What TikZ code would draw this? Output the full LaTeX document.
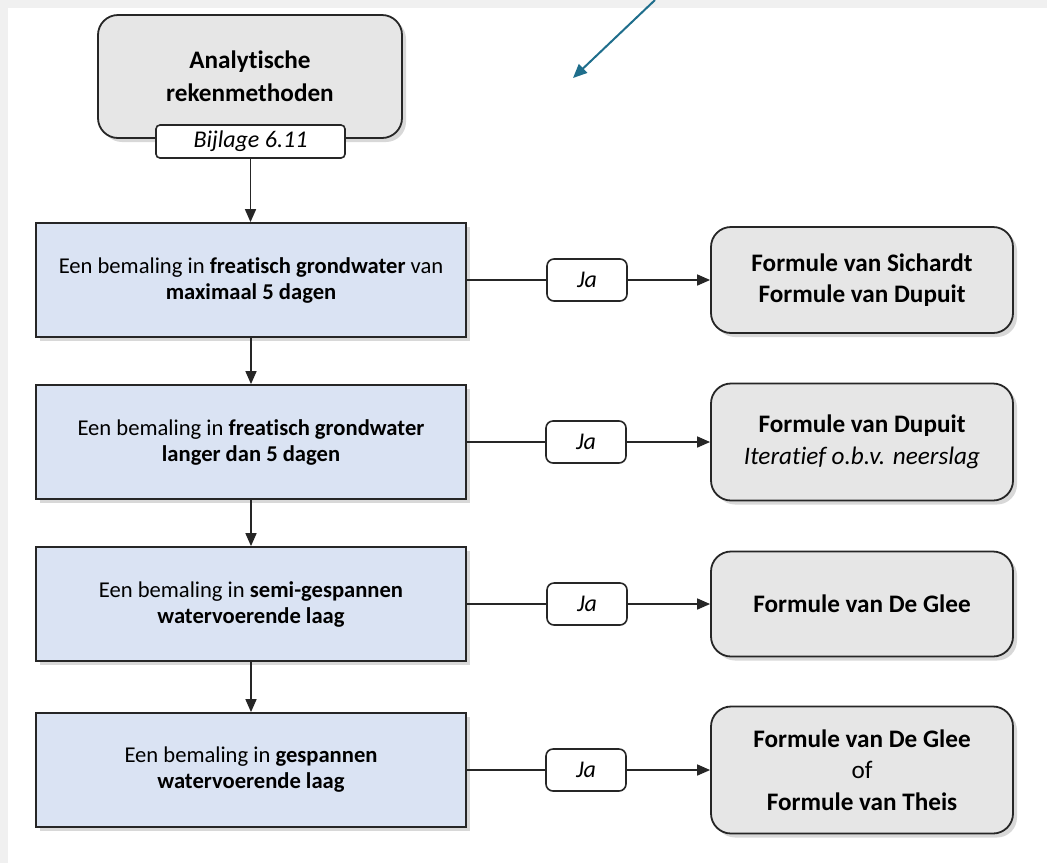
\documentclass[tikz,border=0pt]{standalone}
\usepackage{fontspec}
\setmainfont[Ligatures=NoCommon]{Carlito}
\usetikzlibrary{arrows.meta,shadows}
\definecolor{blokblauw}{HTML}{DAE3F3}
\definecolor{uitkomstgrijs}{HTML}{E6E6E6}
\definecolor{randgrijs}{HTML}{F0F0F0}
\definecolor{pijlblauw}{HTML}{1F6E8C}
\definecolor{lijngrijs}{HTML}{262626}
\tikzset{
	schaduw/.style={drop shadow={opacity=0.3,shadow xshift=2pt,shadow yshift=-2pt}},
	blokbox/.style={draw=lijngrijs,line width=0.9pt,fill=blokblauw,schaduw,
		minimum width=215pt,minimum height=57pt,align=center,
		font=\fontsize{11.3}{13}\selectfont},
	uitkomst/.style={draw=lijngrijs,line width=0.9pt,fill=uitkomstgrijs,schaduw,
		rounded corners=10pt,minimum width=151pt,align=center,
		font=\fontsize{12.6}{15.8}\selectfont},
	jabox/.style={draw=lijngrijs,line width=0.8pt,fill=white,rounded corners=3.5pt,
		minimum width=40pt,minimum height=21pt,font=\fontsize{12}{13}\selectfont\itshape},
	pijl/.style={draw=lijngrijs,line width=0.8pt,-{Triangle[length=6.5pt,width=5.5pt]}},
	verbinding/.style={draw=lijngrijs,line width=0.8pt}
}
\begin{document}
\begin{tikzpicture}[x=0.5pt,y=-0.5pt]
		\useasboundingbox (0,0) rectangle (1047,863);
		\fill[randgrijs] (0,0) rectangle (1047,863);
		\fill[white] (8,8) rectangle (1047,863);
		% startblok
		\node[uitkomst,minimum width=152pt,minimum height=61.5pt,font=\fontsize{12.6}{16.5}\selectfont\bfseries]
			(start) at (250,76.5) {Analytische\\rekenmethoden};
		\node[jabox,rounded corners=2pt,minimum width=94.5pt,minimum height=16.5pt,inner sep=1pt]
			(bijlage) at (250.5,141.5) {Bijlage 6.11};
		% situaties
		\node[blokbox] (blok1) at (251,280) {Een bemaling in \textbf{freatisch grondwater} van\\\textbf{maximaal 5 dagen}};
		\node[blokbox] (blok2) at (251,442) {Een bemaling in \textbf{freatisch grondwater}\\\textbf{langer dan 5 dagen}};
		\node[blokbox] (blok3) at (251,604) {Een bemaling in \textbf{semi-gespannen}\\\textbf{watervoerende laag}};
		\node[blokbox] (blok4) at (251,770) {Een bemaling in \textbf{gespannen}\\\textbf{watervoerende laag}};
		% ja
		\node[jabox] (ja1) at (587,280) {Ja};
		\node[jabox] (ja2) at (586,442) {Ja};
		\node[jabox] (ja3) at (587,604) {Ja};
		\node[jabox] (ja4) at (586,770) {Ja};
		% formules
		\node[uitkomst,minimum height=53pt] (formule1) at (862,280) {\textbf{Formule van Sichardt}\\\textbf{Formule van Dupuit}};
		\node[uitkomst,minimum height=58.5pt] (formule2) at (862,442) {\textbf{Formule van Dupuit}\\\textit{Iteratief o.b.v. neerslag}};
		\node[uitkomst,minimum height=52.5pt] (formule3) at (862,604) {\textbf{Formule van De Glee}};
		\node[uitkomst,minimum height=63.5pt] (formule4) at (862,770) {\textbf{Formule van De Glee}\\of\\\textbf{Formule van Theis}};
		% pijlen omlaag
		\draw[pijl] (bijlage.south) -- (bijlage.south |- blok1.north);
		\draw[pijl] (blok1.south) -- (blok2.north);
		\draw[pijl] (blok2.south) -- (blok3.north);
		\draw[pijl] (blok3.south) -- (blok4.north);
		% pijlen naar rechts
		\draw[verbinding] (blok1.east) -- (ja1.west);
		\draw[pijl] (ja1.east) -- (formule1.west);
		\draw[verbinding] (blok2.east) -- (ja2.west);
		\draw[pijl] (ja2.east) -- (formule2.west);
		\draw[verbinding] (blok3.east) -- (ja3.west);
		\draw[pijl] (ja3.east) -- (formule3.west);
		\draw[verbinding] (blok4.east) -- (ja4.west);
		\draw[pijl] (ja4.east) -- (formule4.west);
		% blauwe pijl
		\coordinate (pijlstart) at (655,0);
		\coordinate (pijlpunt) at (573,78);
		\draw[pijlblauw,line width=1pt,-{Triangle[length=7pt,width=6pt]}] (pijlstart) -- (pijlpunt);
\end{tikzpicture}
\end{document}
